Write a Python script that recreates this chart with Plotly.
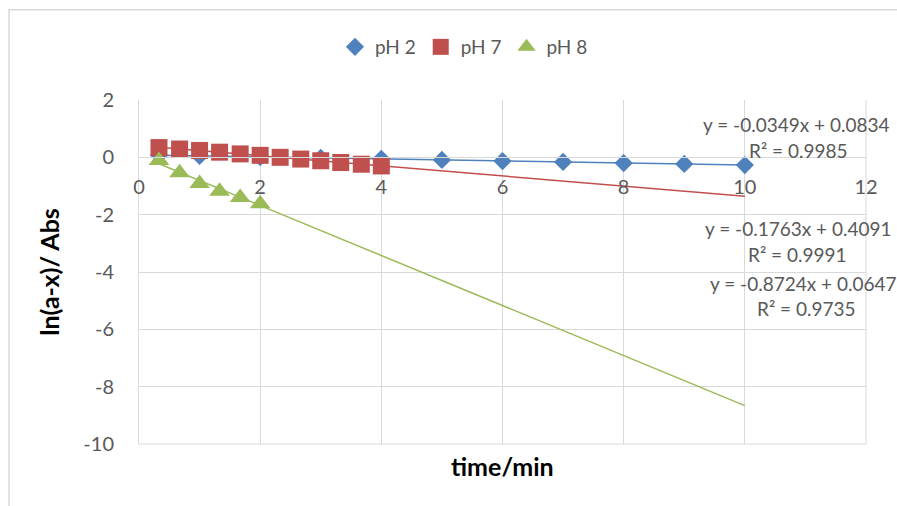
import numpy as np
import plotly.graph_objects as go

# ---- data ----
series_names = ["pH 2", "pH 7", "pH 8"]

ph2_time = [0.33, 1, 2, 3, 4, 5, 6, 7, 8, 9, 10]
ph2_val = [0.07, 0.05, 0.01, -0.02, -0.05, -0.09, -0.13, -0.16, -0.20, -0.23, -0.27]

ph7_time = [0.33, 0.67, 1, 1.33, 1.67, 2, 2.33, 2.67, 3, 3.33, 3.67, 4]
ph7_val = [0.34, 0.29, 0.24, 0.18, 0.12, 0.07, 0.0, -0.06, -0.12, -0.18, -0.24, -0.30]

ph8_time = [0.33, 0.67, 1, 1.33, 1.67, 2]
ph8_val = [-0.11, -0.54, -0.91, -1.18, -1.40, -1.62]

# linear trendline coefficients (as printed on chart)
slopes = [-0.0349, -0.1763, -0.8724]
intercepts = [0.0834, 0.4091, 0.0647]
r_squared = ["0.9985", "0.9991", "0.9735"]
trend_start = 0.33
trend_end = 10

x_ticks = [0, 2, 4, 6, 8, 10, 12]
y_ticks = [2, 0, -2, -4, -6, -8, -10]

colors = ["#4F81BD", "#C0504D", "#9BBB59"]
symbols = ["diamond", "square", "triangle-up"]
sizes = [14, 17, 18]
FONT = "Lato, 'Open Sans', sans-serif"
GREY = "#595959"

fig = go.Figure()

all_x = [ph2_time, ph7_time, ph8_time]
all_y = [ph2_val, ph7_val, ph8_val]

# trendlines first (under markers)
for i in range(3):
    tx = np.array([trend_start, trend_end])
    ty = slopes[i] * tx + intercepts[i]
    fig.add_trace(go.Scatter(x=tx, y=ty, mode="lines",
                             line=dict(color=colors[i], width=1.5),
                             showlegend=False, hoverinfo="skip"))

for i in range(3):
    fig.add_trace(go.Scatter(x=all_x[i], y=all_y[i], mode="markers", name=series_names[i],
                             marker=dict(symbol=symbols[i], size=sizes[i], color=colors[i],
                                         line=dict(width=0))))

# equation labels
ann_pos = [
    ((10.86, 1.13), (10.89, 0.25)),
    ((10.88, -2.47), (10.87, -3.38)),
    ((9.40, -4.39), (11.01, -5.27)),
]
for i in range(3):
    (ex, ey), (rx, ry) = ann_pos[i]
    sign = "+" if intercepts[i] >= 0 else "-"
    eq = f"y = {slopes[i]:.4f}x {sign} {abs(intercepts[i]):.4f}"
    fig.add_annotation(x=ex, y=ey, xref="x", yref="y", text=eq, showarrow=False,
                       xanchor="left" if i == 2 else "center",
                       font=dict(family=FONT, size=19, color=GREY))
    fig.add_annotation(x=rx, y=ry, xref="x", yref="y", text=f"R² = {r_squared[i]}",
                       showarrow=False, font=dict(family=FONT, size=19, color=GREY))

# chart outer frame
fig.add_shape(type="rect", xref="paper", yref="paper",
              x0=-0.1788, y0=-1.0, x1=2.0, y1=1.262,
              line=dict(color="#D9D9D9", width=1.5), fillcolor="rgba(0,0,0,0)", layer="below")

fig.update_layout(
    width=897, height=506,
    margin=dict(l=139, r=31, t=100, b=62, autoexpand=False),
    paper_bgcolor="white", plot_bgcolor="white",
    font=dict(family=FONT, color=GREY, size=20),
    legend=dict(orientation="h", x=0.447, xanchor="center",
                yref="container", y=1 - 47 / 506, yanchor="middle",
                bgcolor="rgba(0,0,0,0)",
                font=dict(family=FONT, size=19, color=GREY), itemwidth=30,
                tracegroupgap=0),
    xaxis=dict(range=[0, 12], tickvals=x_ticks, ticktext=[str(v) for v in x_ticks],
               showgrid=True, gridcolor="#D9D9D9", gridwidth=1,
               zeroline=False, showline=True, linecolor="#D9D9D9", linewidth=1,
               anchor="free", position=10 / 12, ticks="", ticklabelstandoff=12,
               tickfont=dict(family=FONT, size=20, color=GREY)),
    yaxis=dict(range=[-10, 2], tickvals=y_ticks, ticktext=[str(v) for v in y_ticks],
               showgrid=True, gridcolor="#D9D9D9", gridwidth=1,
               zeroline=False, showline=True, linecolor="#D9D9D9", linewidth=1,
               ticks="", ticklabelstandoff=20,
               tickfont=dict(family=FONT, size=20, color=GREY),
               title=dict(text="<b>ln(a-x)/ Abs</b>", standoff=16,
                          font=dict(family=FONT, size=25, color="black"))),
    showlegend=True,
)

# x-axis title (axis is positioned at y=0, so place title below plot)
fig.add_annotation(x=0.5, y=-0.0626, xref="paper", yref="paper", yanchor="middle",
                   text="<b>time/min</b>", showarrow=False,
                   font=dict(family=FONT, size=25, color="black"))
# right and bottom border of plot area
fig.add_shape(type="line", xref="paper", yref="paper", x0=1, x1=1, y0=0, y1=1,
              line=dict(color="#D9D9D9", width=1), layer="below")
fig.add_shape(type="line", xref="paper", yref="paper", x0=0, x1=1, y0=0, y1=0,
              line=dict(color="#D9D9D9", width=1), layer="below")

fig.write_html("out.html")
